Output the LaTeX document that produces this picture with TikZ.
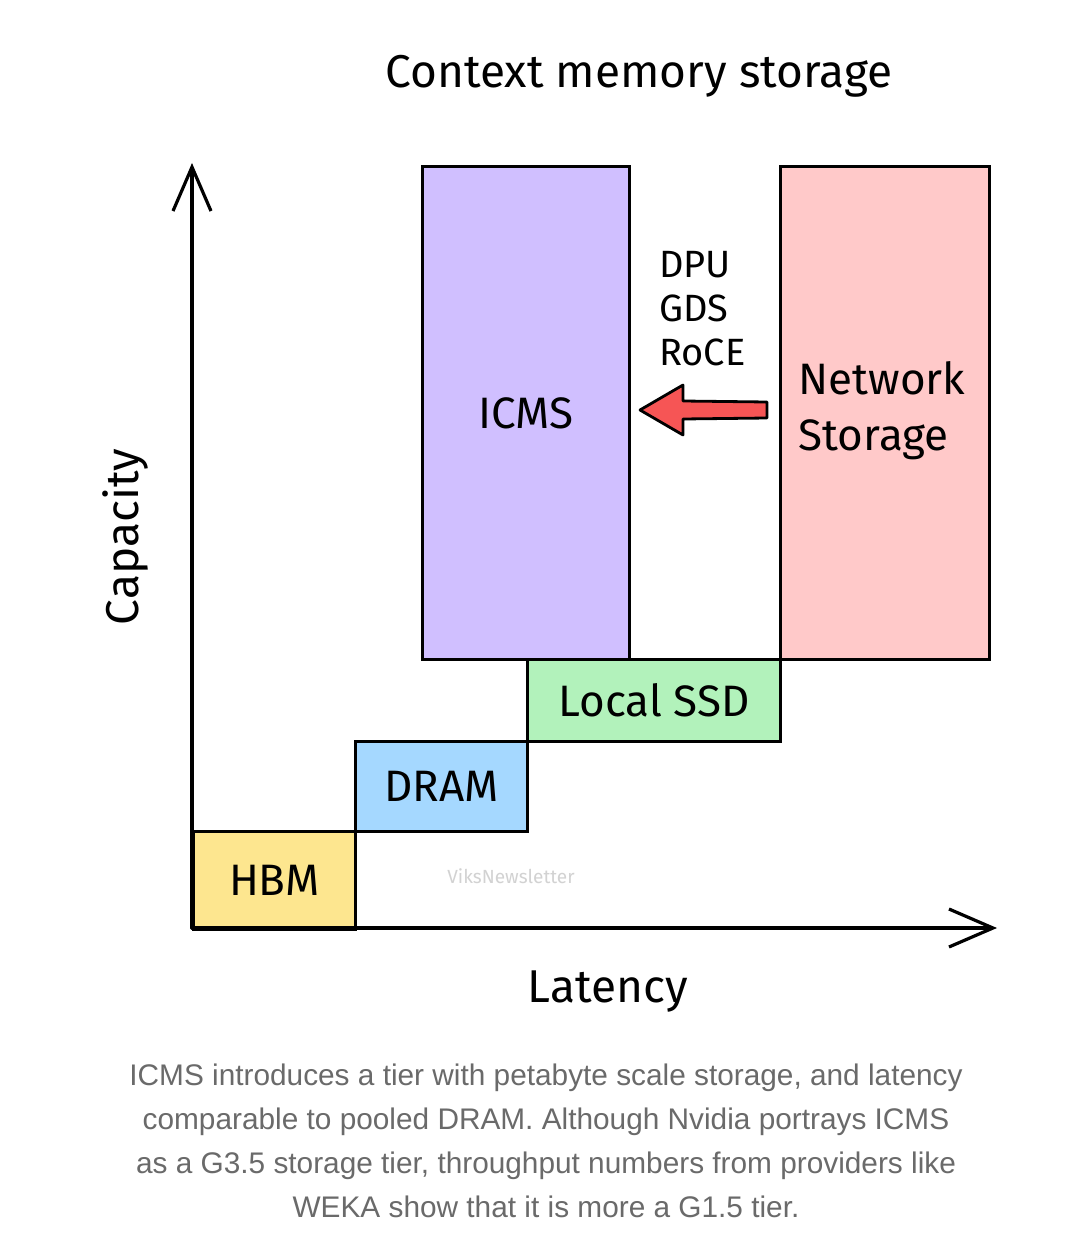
\documentclass[tikz,border=0pt]{standalone}
\usepackage{fontspec}
\setmainfont{Fira Sans}
\newfontfamily\capfont{Liberation Sans}
\usetikzlibrary{arrows.meta,calc}
\definecolor{hbmY}{HTML}{FDE68F}
\definecolor{dramB}{HTML}{A5D8FF}
\definecolor{ssdG}{HTML}{B2F2BB}
\definecolor{icmsP}{HTML}{D0BFFF}
\definecolor{nsR}{HTML}{FFC9C9}
\definecolor{arrR}{HTML}{F65555}
\definecolor{capG}{HTML}{6A6A6A}
\tikzset{
  tier/.style={draw=black, line width=3pt, inner sep=0pt, anchor=north west, align=center,
    font=\fontsize{44}{50}\selectfont},
  axisline/.style={line width=3.2pt, line cap=round, -{Straight Barb[length=44pt,width=38pt,line width=3.2pt]}},
  lbl/.style={font=\fontsize{46}{52}\selectfont, inner sep=0pt},
  smalllbl/.style={font=\fontsize{38}{43}\selectfont, inner sep=0pt, align=left},
}
\begin{document}
\begin{tikzpicture}[x=1pt,y=-1pt]
\useasboundingbox (0,0) rectangle (1086,1252);
\fill[white] (0,0) rectangle (1086,1252);
% title
\node[lbl] (title) at (639,76) {Context memory storage};
% tiers
\node[tier, fill=icmsP, minimum width=207pt, minimum height=493pt] (icms) at (421,165) {ICMS};
\node[tier, fill=nsR, minimum width=209pt, minimum height=493pt] (ns) at (779,165) {};
\node[font=\fontsize{44}{50}\selectfont, inner sep=0pt, align=left] (nslbl) at (882,411) {Network\\[6pt]Storage};
\node[tier, fill=ssdG, minimum width=253pt, minimum height=82pt] (ssd) at (526,658) {Local SSD};
\node[tier, fill=dramB, minimum width=172pt, minimum height=90pt] (dram) at (354,740) {DRAM};
\node[tier, fill=hbmY, minimum width=162pt, minimum height=98pt] (hbm) at (192,830) {HBM};
% watermark
\node[text=gray!35, font=\fontsize{19}{22}\selectfont, inner sep=0pt] (wm) at (511,876) {ViksNewsletter};
% axes
\coordinate (o) at (192,928);
\coordinate (ytop) at (192,163);
\coordinate (xend) at (997,928);
\draw[axisline] (o) -- (ytop);
\draw[axisline] (o) -- (xend);
\node[lbl, rotate=90] (cap) at (125,537) {Capacity};
\node[lbl] (lat) at (608,992) {Latency};
% protocols
\node[smalllbl, anchor=north west] (proto) at (659,251) {DPU\\[1pt]GDS\\[1pt]RoCE};
% red arrow from Network Storage to ICMS
\coordinate (at) at ($(icms.east)+(9,-3)$);
\draw[fill=arrR, line width=2.8pt, line join=round]
  (at) -- ($(at)+(43,-25)$) -- ($(at)+(43,-9)$) -- ($(ns.west |- at)+(-12,-8)$)
  -- ($(ns.west |- at)+(-12,8)$) -- ($(at)+(43,9)$) -- ($(at)+(43,25)$) -- cycle;
% caption
\node[text=capG, font=\capfont\fontsize{29.8}{44}\selectfont, align=center, inner sep=0pt, anchor=north] (caption) at (546,1064)
 {ICMS introduces a tier with petabyte scale storage, and latency\\
  comparable to pooled DRAM. Although Nvidia portrays ICMS\\
  as a G3.5 storage tier, throughput numbers from providers like\\
  WEKA show that it is more a G1.5 tier.};
\end{tikzpicture}
\end{document}
